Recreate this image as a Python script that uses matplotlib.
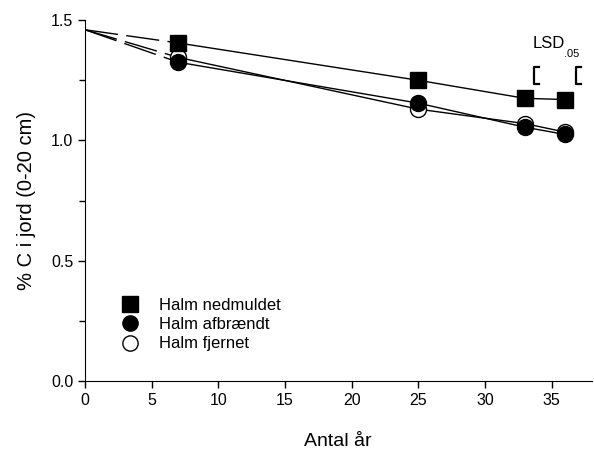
import matplotlib.pyplot as plt

plt.rcParams['font.family'] = ['Liberation Sans', 'DejaVu Sans']

# data
years = [7, 25, 33, 36]
start_year = 0
start_value = 1.46
nedmuldet = [1.405, 1.25, 1.175, 1.17]
afbraendt = [1.325, 1.155, 1.055, 1.025]
fjernet = [1.345, 1.13, 1.07, 1.035]
labels = ['Halm nedmuldet', 'Halm afbrændt', 'Halm fjernet']
lsd_x = [33.7, 36.85]
lsd_low = 1.233
lsd_high = 1.305

fig = plt.figure(figsize=(5.94, 4.51), dpi=100)
ax = fig.add_axes([0.143, 0.155, 0.853, 0.8004])

dash = (0, (24, 6))
series = [(fjernet, 'o', 'white'), (afbraendt, 'o', 'black'), (nedmuldet, 's', 'black')]
for vals, mk, fc in series:
    ax.plot([start_year, years[0]], [start_value, vals[0]], color='black', lw=1.0, linestyle=dash, zorder=2)
    ax.plot(years, vals, color='black', lw=1.0, marker=mk, markersize=11.5,
            markerfacecolor=fc, markeredgecolor='black', markeredgewidth=1.0, zorder=3)

# legend
handles = []
for vals, mk, fc in [series[2], series[1], series[0]]:
    h, = ax.plot([], [], linestyle='none', marker=mk, markersize=11,
                 markerfacecolor=fc, markeredgecolor='black')
    handles.append(h)
ax.legend(handles, labels, loc='lower left', bbox_to_anchor=(0.05, 0.05), frameon=False,
          fontsize=12, handletextpad=1.2, labelspacing=0.25, borderpad=0.2, handlelength=1.0)

# LSD brackets
for x in lsd_x:
    ax.plot([x + 0.35, x, x, x + 0.35], [lsd_high, lsd_high, lsd_low, lsd_low],
            color='black', lw=1.6, zorder=4)
ax.text(33.55, 1.37, 'LSD', fontsize=12, ha='left', va='bottom')
ax.text(35.95, 1.34, '.05', fontsize=8, ha='left', va='bottom')

ax.set_xlim(0, 38)
ax.set_ylim(0, 1.5)
ax.set_xticks([0, 5, 10, 15, 20, 25, 30, 35])
ax.set_yticks([0.0, 0.5, 1.0, 1.5])
ax.set_yticklabels(['0.0', '0.5', '1.0', '1.5'])
ax.set_yticks([0.25, 0.75, 1.25], minor=True)
ax.tick_params(axis='both', which='both', direction='out', labelsize=11.5, width=1)
ax.tick_params(which='major', length=5)
ax.tick_params(which='minor', length=4)
ax.spines['top'].set_visible(False)
ax.spines['right'].set_visible(False)
ax.set_xlabel('Antal år', fontsize=14, labelpad=18)
ax.set_ylabel('% C i jord (0-20 cm)', fontsize=14.5, labelpad=11)

plt.savefig('out.png', dpi=100)
